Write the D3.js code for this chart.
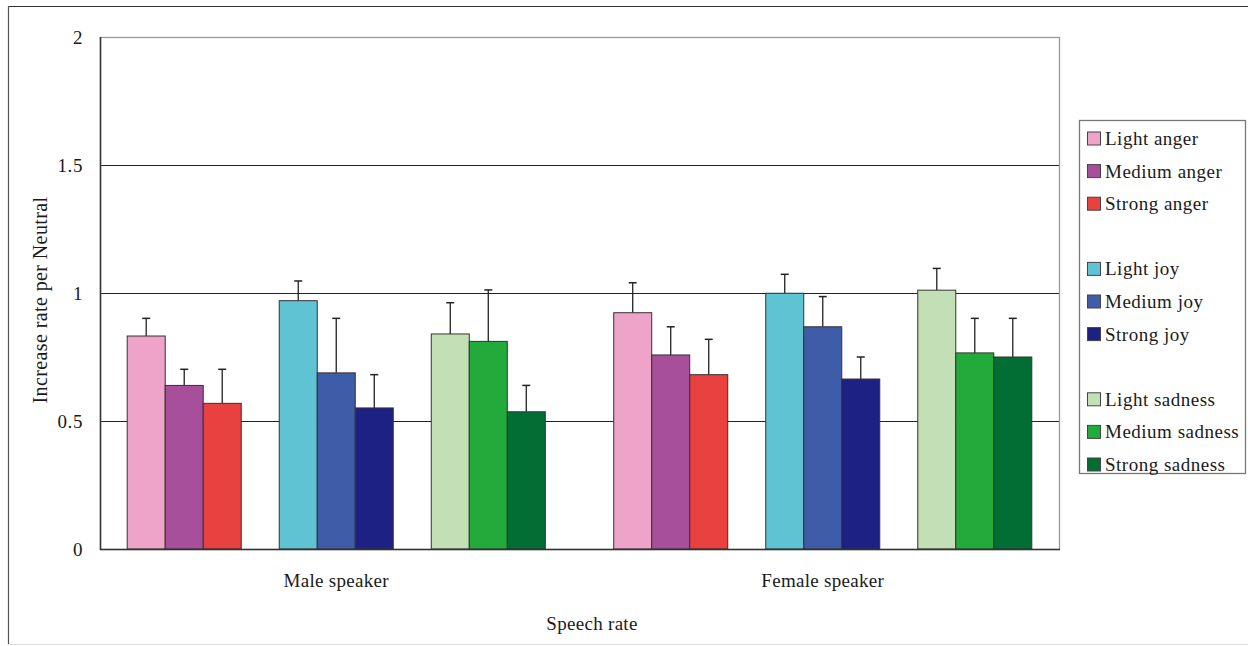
<!DOCTYPE html>
<html>
<head>
<meta charset="utf-8">
<script src="https://cdn.jsdelivr.net/npm/d3@7"></script>
<style>
  body { margin: 0; background: #fff; }
  text { font-family: "Liberation Serif", "Times New Roman", serif; fill: #1a1a1a; }
</style>
</head>
<body>
<svg id="chart" width="1248" height="646"></svg>
<script>
var categories = ["Male speaker", "Female speaker"];
var seriesNames = ["Light anger", "Medium anger", "Strong anger",
                   "Light joy", "Medium joy", "Strong joy",
                   "Light sadness", "Medium sadness", "Strong sadness"];
var seriesColors = ["#eea3c8", "#a84f9c", "#e8413f",
                    "#5fc3d3", "#3f5ca8", "#1d2183",
                    "#c2dfb5", "#22ab3b", "#036e33"];
var maleValues   = [0.832, 0.639, 0.569, 0.970, 0.688, 0.551, 0.840, 0.811, 0.536];
var maleErrors   = [0.069, 0.063, 0.133, 0.077, 0.213, 0.130, 0.122, 0.201, 0.103];
var femaleValues = [0.923, 0.758, 0.681, 0.999, 0.868, 0.664, 1.011, 0.766, 0.750];
var femaleErrors = [0.117, 0.110, 0.138, 0.074, 0.118, 0.086, 0.085, 0.135, 0.151];
var yTicks = [0, 0.5, 1, 1.5, 2];

var svg = d3.select("#chart");
var plot = { left: 100, right: 1059, top: 37, bottom: 549 };

// outer frame of the figure
svg.append("line").attr("x1", 8).attr("x2", 1248).attr("y1", 6.5).attr("y2", 6.5)
  .attr("stroke", "#333").attr("stroke-width", 1.2);
svg.append("line").attr("x1", 8.5).attr("x2", 8.5).attr("y1", 6).attr("y2", 644)
  .attr("stroke", "#555").attr("stroke-width", 1.2);
svg.append("line").attr("x1", 8).attr("x2", 1248).attr("y1", 644.5).attr("y2", 644.5)
  .attr("stroke", "#ddd");

var y = d3.scaleLinear().domain([0, 2]).range([plot.bottom, plot.top]);
// category bands (a bit wider than the frame, as in the picture)
var x0 = d3.scaleBand().domain(categories).range([93, 1066]);
// 11 slots: 3 series, blank, 3 series, blank, 3 series
var slotOf = function(i) { return i + Math.floor(i / 3); };
var x1 = d3.scaleBand().domain(d3.range(11)).range([0, x0.bandwidth()])
  .paddingInner(0).paddingOuter(0.9);

// grid lines
svg.append("g").selectAll("line")
  .data(yTicks.filter(function(t) { return t > 0 && t < 2; }))
  .enter().append("line")
  .attr("x1", plot.left).attr("x2", plot.right)
  .attr("y1", function(d) { return Math.round(y(d)) + 0.5; })
  .attr("y2", function(d) { return Math.round(y(d)) + 0.5; })
  .attr("stroke", "#222").attr("stroke-width", 1);

// plot border
svg.append("rect").attr("x", plot.left + 0.5).attr("y", plot.top + 0.5)
  .attr("width", plot.right - plot.left).attr("height", plot.bottom - plot.top)
  .attr("fill", "none").attr("stroke", "#999").attr("stroke-width", 1.3);

var rows = [
  { cat: categories[0], values: maleValues, errors: maleErrors },
  { cat: categories[1], values: femaleValues, errors: femaleErrors }
];
var bars = [];
rows.forEach(function(r) {
  r.values.forEach(function(v, i) {
    bars.push({ cat: r.cat, i: i, value: v, err: r.errors[i] });
  });
});

var g = svg.append("g");
// error bars (drawn behind bars, upward only)
g.selectAll("line.err").data(bars).enter().append("line").attr("class", "err")
  .attr("x1", function(d) { return x0(d.cat) + x1(slotOf(d.i)) + x1.bandwidth() / 2; })
  .attr("x2", function(d) { return x0(d.cat) + x1(slotOf(d.i)) + x1.bandwidth() / 2; })
  .attr("y1", function(d) { return y(d.value); })
  .attr("y2", function(d) { return y(d.value + d.err); })
  .attr("stroke", "#222").attr("stroke-width", 1.3);
g.selectAll("line.cap").data(bars).enter().append("line").attr("class", "cap")
  .attr("x1", function(d) { return x0(d.cat) + x1(slotOf(d.i)) + x1.bandwidth() / 2 - 4; })
  .attr("x2", function(d) { return x0(d.cat) + x1(slotOf(d.i)) + x1.bandwidth() / 2 + 4; })
  .attr("y1", function(d) { return y(d.value + d.err); })
  .attr("y2", function(d) { return y(d.value + d.err); })
  .attr("stroke", "#222").attr("stroke-width", 1.5);

g.selectAll("rect").data(bars).enter().append("rect")
  .attr("x", function(d) { return x0(d.cat) + x1(slotOf(d.i)); })
  .attr("y", function(d) { return y(d.value); })
  .attr("width", x1.bandwidth())
  .attr("height", function(d) { return y(0) - y(d.value); })
  .attr("fill", function(d) { return seriesColors[d.i]; })
  .attr("stroke", "#333").attr("stroke-width", 1);

// bottom axis line and left axis line
svg.append("line").attr("x1", plot.left).attr("x2", plot.right + 1)
  .attr("y1", plot.bottom + 0.5).attr("y2", plot.bottom + 0.5)
  .attr("stroke", "#333").attr("stroke-width", 1.5);
svg.append("line").attr("x1", plot.left + 0.5).attr("x2", plot.left + 0.5)
  .attr("y1", plot.top).attr("y2", plot.bottom + 1)
  .attr("stroke", "#333").attr("stroke-width", 1.5);

// y axis labels
var yAxis = d3.axisLeft(y).tickValues(yTicks).tickSize(0).tickPadding(17)
  .tickFormat(function(d) { return String(d); });
var ya = svg.append("g").attr("transform", "translate(" + plot.left + ",0)").call(yAxis);
ya.select(".domain").remove();
ya.selectAll("text").attr("font-size", 19).attr("letter-spacing", 0.6);

// category labels
var xAxis = d3.axisBottom(x0).tickSize(0).tickPadding(25);
var xa = svg.append("g").attr("transform", "translate(0," + plot.bottom + ")").call(xAxis);
xa.select(".domain").remove();
xa.selectAll("text").attr("font-size", 19).attr("letter-spacing", 0.3);

// axis titles
svg.append("text").attr("x", 592).attr("y", 630).attr("text-anchor", "middle")
  .attr("font-size", 19).attr("letter-spacing", 0.3).text("Speech rate");
svg.append("text").attr("transform", "translate(47,300) rotate(-90)")
  .attr("text-anchor", "middle").attr("font-size", 20).attr("letter-spacing", 0.4)
  .text("Increase rate per Neutral");

// legend
var legend = svg.append("g");
legend.append("rect").attr("x", 1079.5).attr("y", 120.5).attr("width", 166).attr("height", 353)
  .attr("fill", "#fff").attr("stroke", "#777").attr("stroke-width", 1.3);
var li = legend.selectAll("g.item").data(seriesNames).enter().append("g").attr("class", "item")
  .attr("transform", function(d, i) { return "translate(1087," + (138.5 + slotOf(i) * 32.6) + ")"; });
li.append("rect").attr("x", 0.5).attr("y", -6.5).attr("width", 13).attr("height", 13)
  .attr("fill", function(d, i) { return seriesColors[i]; })
  .attr("stroke", "#444").attr("stroke-width", 1);
li.append("text").attr("x", 18).attr("y", 6.5).attr("font-size", 19).attr("letter-spacing", 0.5)
  .text(function(d) { return d; });
</script>
</body>
</html>
